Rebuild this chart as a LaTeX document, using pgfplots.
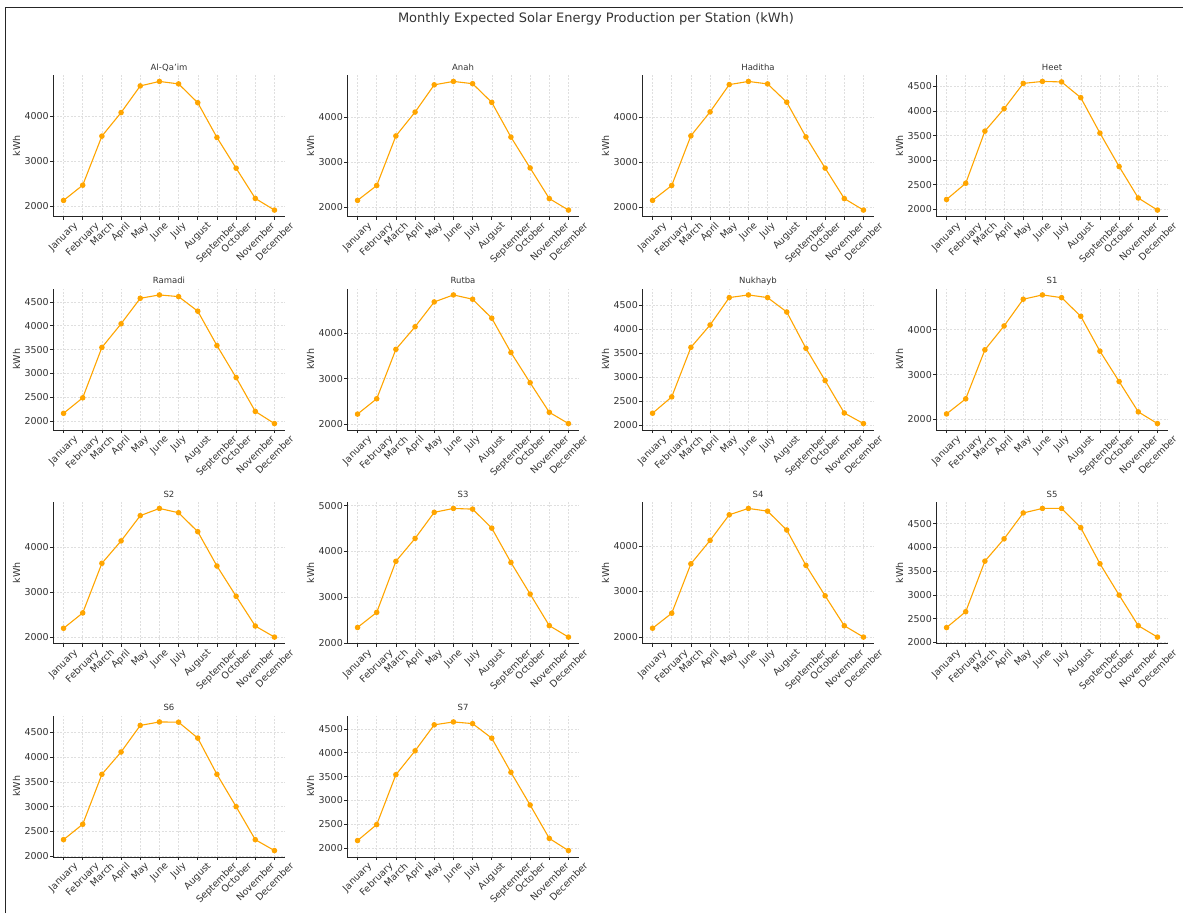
\documentclass[border=0pt]{standalone}
\usepackage{fontspec}
\setmainfont{DejaVu Sans}
\usepackage{graphicx}
\usepackage{pgfplots}
\usepackage{pgfplotstable}
\pgfplotsset{compat=1.18}

\definecolor{lineorange}{HTML}{FFA500}
\definecolor{txt}{HTML}{333333}

% monthly expected production per station, kWh (m = month index 0..11)
\pgfplotstableread{
m AlQaim Anah Haditha Heet Ramadi Rutba Nukhayb S1 S2 S3 S4 S5 S6 S7
0  2120 2150 2150 2200 2165 2215 2250 2125 2200 2340 2190 2310 2335 2160
1  2460 2480 2480 2530 2490 2555 2590 2460 2540 2670 2520 2645 2645 2495
2  3555 3580 3580 3590 3545 3650 3620 3550 3640 3785 3610 3710 3650 3540
3  4080 4110 4110 4045 4040 4150 4085 4080 4135 4285 4125 4180 4100 4040
4  4675 4715 4715 4560 4575 4700 4655 4675 4695 4855 4690 4725 4635 4585
5  4775 4790 4785 4600 4645 4855 4710 4770 4855 4940 4830 4820 4705 4645
6  4720 4740 4730 4590 4610 4760 4655 4710 4760 4925 4770 4820 4700 4610
7  4300 4325 4325 4270 4305 4340 4355 4295 4340 4510 4355 4415 4380 4305
8  3525 3555 3555 3550 3585 3580 3600 3520 3580 3760 3575 3655 3650 3590
9  2840 2870 2865 2870 2915 2910 2930 2845 2910 3070 2905 2995 3000 2905
10 2165 2190 2190 2230 2205 2255 2255 2170 2250 2380 2245 2350 2335 2205
11 1905 1935 1935 1985 1950 2005 2035 1910 2005 2130 1995 2110 2115 1950
}\data

\pgfplotsset{
  station/.style={
    scale only axis, width=232pt, height=141.5pt, anchor=north west,
    axis lines=left, axis line style={-, black!85, line width=0.8pt},
    xmin=-0.55, xmax=11.55, enlarge y limits=0.05,
    xtick={0,...,11},
    xticklabels={\rotatebox{45}{January},\rotatebox{45}{February},\rotatebox{45}{March},
      \rotatebox{45}{April},\rotatebox{45}{May},\rotatebox{45}{June},\rotatebox{45}{July},
      \rotatebox{45}{August},\rotatebox{45}{September},\rotatebox{45}{October},
      \rotatebox{45}{November},\rotatebox{45}{December}},
    tick align=outside, major tick length=3pt,
    tick style={black!85, line width=0.6pt},
    grid=major, major grid style={gray!25, line width=0.5pt, dash pattern=on 2pt off 1.5pt},
    ticklabel style={font=\fontsize{9.5}{11}\selectfont, text=txt},
    yticklabel style={inner sep=1pt},
    xticklabel style={inner sep=1.5pt, anchor=north},
    /pgf/number format/assume math mode=true,
    /pgf/number format/1000 sep={},
    scaled y ticks=false,
    ylabel={kWh}, ylabel style={font=\fontsize{9.5}{11}\selectfont, text=txt},
    title style={font=\fontsize{8.5}{10}\selectfont, text=txt,
      at={(0.5,1)}, anchor=base, yshift=-1pt},
  },
}

% #1 left, #2 top (px from top-left), #3 title, #4 column, #5 y tick step
\newcommand{\station}[5]{%
  \begin{axis}[station, at={(#1pt,-#2pt)}, title={#3}, ytick distance=#5]
    \addplot[lineorange, line width=1.1pt, mark=*, mark size=2.2pt,
      mark options={solid, fill=lineorange}] table[x=m, y=#4] {\data};
  \end{axis}}

\begin{document}
\begin{tikzpicture}
  \path[use as bounding box] (0,0) rectangle (1183pt,-913pt);
  \draw[black!85, line width=1.5pt] (5.5pt,-913pt) -- (5.5pt,-7.3pt) -- (1183pt,-7.3pt);
  \node[font=\fontsize{13}{15}\selectfont, text=txt] at (596pt,-19pt)
    {Monthly Expected Solar Energy Production per Station (kWh)};

  \station{53}{75}{Al-Qa'im}{AlQaim}{1000}
  \station{347}{75}{Anah}{Anah}{1000}
  \station{642}{75}{Haditha}{Haditha}{1000}
  \station{936}{75}{Heet}{Heet}{500}

  \station{53}{288.5}{Ramadi}{Ramadi}{500}
  \station{347}{288.5}{Rutba}{Rutba}{1000}
  \station{642}{288.5}{Nukhayb}{Nukhayb}{500}
  \station{936}{288.5}{S1}{S1}{1000}

  \station{53}{502}{S2}{S2}{1000}
  \station{347}{502}{S3}{S3}{1000}
  \station{642}{502}{S4}{S4}{1000}
  \station{936}{502}{S5}{S5}{500}

  \station{53}{715.5}{S6}{S6}{500}
  \station{347}{715.5}{S7}{S7}{500}
\end{tikzpicture}
\end{document}
